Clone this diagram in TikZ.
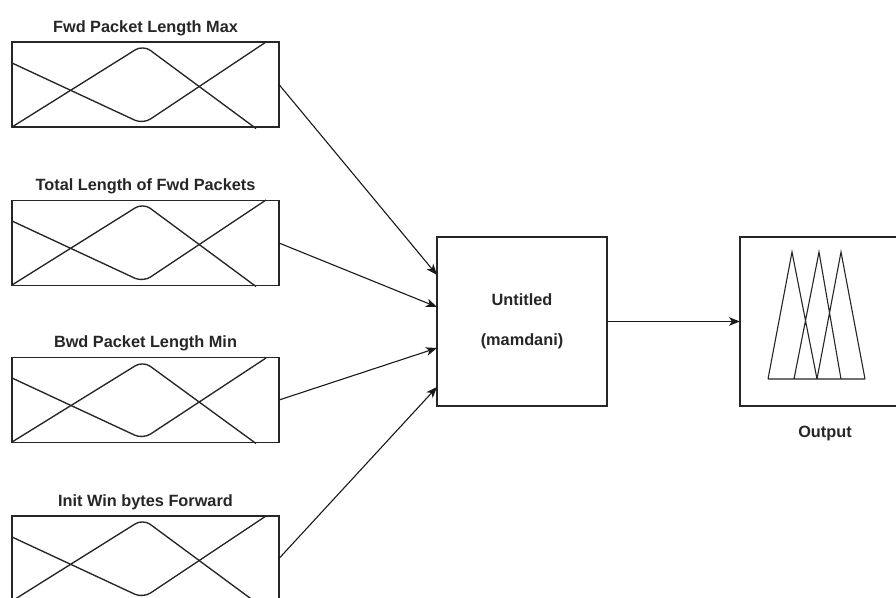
\documentclass[tikz,border=0pt]{standalone}
\usepackage{fontspec}
\setmainfont{Liberation Sans}
\usetikzlibrary{arrows.meta}
\begin{document}
\begin{tikzpicture}[x=1pt,y=-1pt,
  box/.style={draw=black!85,line width=1.2pt,minimum width=267pt,minimum height=85pt,inner sep=0pt,outer sep=0pt},
  bigbox/.style={draw=black!85,line width=1.2pt,minimum width=170pt,minimum height=169pt,inner sep=0pt,outer sep=0pt},
  ttl/.style={font=\fontsize{16.3}{19}\selectfont\bfseries,text=black!85,inner sep=0pt,anchor=base},
  mf/.style={draw=black!85,line width=1.35pt,rounded corners=9pt},
  arr/.style={draw=black!90,line width=1.1pt,-{Stealth[length=11pt,width=8.5pt,inset=3pt]}}]
\useasboundingbox (0,0) rectangle (896,597);
\clip (0,0) rectangle (896,597);
\fill[white] (0,0) rectangle (896,597);
% input boxes
\node[box] (in1) at (145.5,84.5) {};
\node[box] (in2) at (145.5,243) {};
\node[box] (in3) at (145.5,400) {};
\node[box] (in4) at (145.5,558.5) {};
\node[ttl] (t1) at ([yshift=10pt]in1.north) {Fwd Packet Length Max};
\node[ttl] (t2) at ([yshift=10pt]in2.north) {Total Length of Fwd Packets};
\node[ttl] (t3) at ([yshift=10pt]in3.north) {Bwd Packet Length Min};
\node[ttl] (t4) at ([yshift=10pt]in4.north) {Init Win bytes Forward};
% membership functions
\foreach \t/\b in {42/127,200/285,358/442,516/601}{
  \draw[mf] (12,\b-64) -- (143,\b-3) -- (266,\t);
  \draw[mf] (12,\b) -- (143,\t+3) -- (256,\b+1.5);
}
% central system
\node[bigbox,align=center,font=\fontsize{16.3}{19}\selectfont\bfseries,text=black!85] (mam) at (522,321.5) {Untitled\\[21pt](mamdani)};
% output
\node[draw=black!85,line width=1.2pt,minimum width=170pt,minimum height=169pt,inner sep=0pt,outer sep=0pt] (out) at (825,321.5) {};
\node[ttl] (outl) at ([yshift=-31pt]out.south) {Output};
\draw[draw=black!85,line width=1.1pt]
  (768,379) -- (792,252) -- (817,379)
  (794,379) -- (819,252) -- (841,379)
  (817,379) -- (841,252) -- (865,379)
  (768,379) -- (865,379);
% connectors
\draw[arr] (in1.east) -- ([yshift=46.5pt]mam.west);
\draw[arr] (in2.east) -- ([yshift=14.5pt]mam.west);
\draw[arr] (in3.east) -- ([yshift=-26.5pt]mam.west);
\draw[arr] (in4.east) -- ([yshift=-65.5pt]mam.west);
\draw[arr] (mam.east) -- (out.west);
\end{tikzpicture}
\end{document}
